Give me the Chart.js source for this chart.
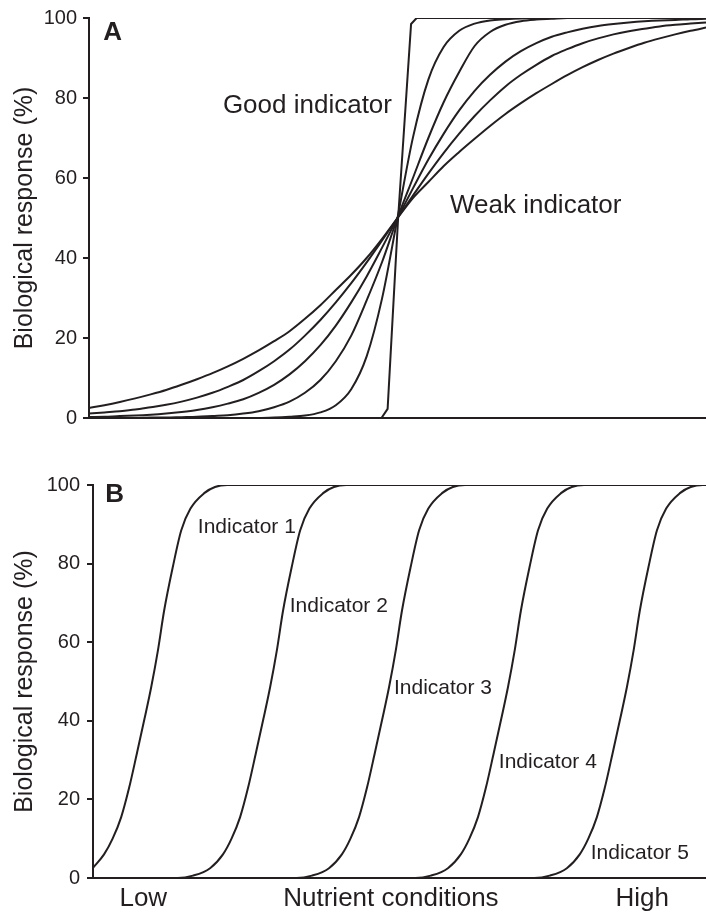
<!DOCTYPE html>
<html>
<head>
<meta charset="utf-8">
<script src="https://cdn.jsdelivr.net/npm/chart.js@4.4.1/dist/chart.umd.min.js"></script>
<style>
  html, body { margin: 0; padding: 0; background: #fff; }
  #wrap { position: relative; width: 706px; height: 912px; }
  canvas { position: absolute; left: 0; }
  #chartA { top: 0; }
  #chartB { top: 460px; }
</style>
</head>
<body>
<div id="wrap">
  <canvas id="chartA" width="706" height="445"></canvas>
  <canvas id="chartB" width="706" height="452"></canvas>
</div>
<script>
// ---- Panel A: response curves of increasing steepness, all crossing at 50 %
const xA = [0, 2.5, 5, 7.5, 10, 12.5, 15, 17.5, 20, 22.5, 25, 27.5, 30, 32.5, 35, 37.5, 40, 42.5, 45, 47.5,
            50, 52.5, 55, 57.5, 60, 62.5, 65, 67.5, 70, 72.5, 75, 77.5, 80, 82.5, 85, 87.5, 90, 92.5, 95, 97.5, 100];

const weakest = [2.5, 3.2, 4.0, 4.9, 5.9, 7.0, 8.3, 9.7, 11.2, 12.9, 14.8, 16.9, 19.2, 21.7, 24.8, 28.2, 32.0, 35.8, 40.0, 44.8,
                 50, 55, 59, 63, 66.5, 69.8, 73, 76, 78.7, 81.2, 83.5, 85.7, 87.7, 89.5, 91.1, 92.5, 93.8, 94.9, 95.9, 96.8, 97.6];
const curve5 = [1.1, 1.4, 1.7, 2.1, 2.7, 3.3, 4.1, 5.1, 6.3, 7.8, 9.5, 11.7, 14.2, 17.1, 20.6, 24.5, 28.9, 33.7, 38.9, 44.4,
                50, 55.6, 61.1, 66.3, 71.1, 75.5, 79.4, 82.9, 85.8, 88.3, 90.5, 92.2, 93.7, 94.9, 95.9, 96.7, 97.3, 97.9, 98.3, 98.6, 98.9];
const curve4 = [0.25, 0.3, 0.5, 0.6, 0.8, 1.1, 1.5, 2.0, 2.7, 3.6, 4.7, 6.3, 8.3, 10.9, 14.2, 18.2, 23.1, 28.9, 35.4, 42.6,
                50, 57.4, 64.6, 71.1, 76.9, 81.8, 85.8, 89.1, 91.7, 93.7, 95.3, 96.4, 97.3, 98.0, 98.5, 98.9, 99.2, 99.4, 99.5, 99.7, 99.8];
const curve3 = [0, 0, 0, 0, 0.1, 0.1, 0.2, 0.3, 0.5, 0.7, 1.1, 1.7, 2.7, 4.1, 6.3, 9.5, 14.2, 20.6, 29.4, 39,
                50, 60, 70, 79, 86.5, 93, 96.5, 98.3, 99.2, 99.6, 99.8, 100, 100, 100, 100, 100, 100, 100, 100, 100, 100];
const curve2 = [0, 0, 0, 0, 0, 0, 0, 0, 0, 0, 0, 0, 0.1, 0.3, 0.6, 1.4, 3.2, 7.2, 15.4, 29.9,
                50, 70.1, 84.6, 92.8, 96.8, 98.6, 99.4, 99.7, 99.9, 100, 100, 100, 100, 100, 100, 100, 100, 100, 100, 100, 100];
// steepest curve ("good indicator") has its own break points
const goodX = [0, 47.4, 48.4, 50.1, 52.2, 53.1, 100];
const goodY = [0, 0, 2.3, 50, 98.5, 100, 100];

// ---- Panel B: five equally steep indicators along the gradient
const indicatorY = [0, 0, 0.6, 2.5, 6, 10, 15.5, 23, 32, 40.5, 48.6, 58, 68, 79, 88.5, 94, 98, 99.5, 100, 100];
const ind2X = [0, 13.8, 16.3, 19.1, 21.2, 22.6, 24.0, 25.3, 26.6, 27.8, 28.9, 30.0, 31.0, 32.4, 33.8, 35.3, 37.6, 39.3, 41.3, 100];
const ind3X = [0, 33.2, 35.7, 38.5, 40.6, 42.0, 43.4, 44.7, 46.0, 47.2, 48.3, 49.4, 50.4, 51.8, 53.2, 54.7, 57.0, 58.7, 60.7, 100];
const ind4X = [0, 52.6, 55.1, 57.9, 60.0, 61.4, 62.8, 64.1, 65.4, 66.6, 67.7, 68.8, 69.8, 71.2, 72.6, 74.1, 76.4, 78.1, 80.1, 100];
const ind5X = [0, 72.0, 74.5, 77.3, 79.4, 80.8, 82.2, 83.5, 84.8, 86.0, 87.1, 88.2, 89.2, 90.6, 92.0, 93.5, 95.8, 97.5, 99.5, 100];
// indicator 1 is already rising at the low end of the gradient
const ind1X = [0, 1.8, 3.2, 4.6, 5.9, 7.2, 8.4, 9.5, 10.6, 11.6, 13.0, 14.4, 15.9, 18.2, 19.9, 21.9, 100];
const ind1Y = [2.6, 6, 10, 15.5, 23, 32, 40.5, 48.6, 58, 68, 79, 88.5, 94, 98, 99.5, 100, 100];

const xLabelPos = [8.2, 48.6, 89.6];
const xLabelText = ['Low', 'Nutrient conditions', 'High'];
const yTitle = 'Biological response (%)';

const ink = '#231f20';
const fontFam = '"Liberation Sans", Arial, Helvetica, sans-serif';

const pts = (xs, ys) => xs.map((x, i) => ({ x: x, y: ys[i] }));

function line(data, smooth) {
    return {
        data: data,
        borderColor: ink,
        borderWidth: 2,
        pointRadius: 0,
        fill: false,
        tension: smooth ? 0.4 : 0,
        cubicInterpolationMode: smooth ? 'monotone' : 'default'
    };
}

// draws free text at data coordinates
const textLabels = {
    id: 'textLabels',
    afterDatasetsDraw(chart, args, opts) {
        const ctx = chart.ctx;
        const xs = chart.scales.x, ys = chart.scales.y;
        ctx.save();
        ctx.fillStyle = ink;
        ctx.textAlign = 'left';
        ctx.textBaseline = 'alphabetic';
        (opts.items || []).forEach(it => {
            ctx.font = it.font;
            ctx.fillText(it.text, xs.getPixelForValue(it.x), ys.getPixelForValue(it.y));
        });
        ctx.restore();
    }
};

function makeOptions(cfg) {
    return {
        responsive: false,
        animation: false,
        events: [],
        layout: { padding: { top: cfg.padTop, left: 0, right: 0, bottom: 0 } },
        plugins: {
            legend: { display: false },
            tooltip: { enabled: false },
            textLabels: { items: cfg.labels }
        },
        scales: {
            x: {
                type: 'linear',
                min: 0,
                max: 100,
                grid: { display: false, drawTicks: false },
                border: { display: true, color: ink, width: 2 },
                ticks: cfg.xTicks,
                afterBuildTicks: cfg.xBuildTicks,
                afterFit: s => { s.height = cfg.xHeight; }
            },
            y: {
                min: 0,
                max: 100,
                grid: { display: true, drawOnChartArea: false, drawTicks: true, tickLength: 6, color: ink, lineWidth: 2 },
                border: { display: true, color: ink, width: 2 },
                ticks: {
                    stepSize: 20,
                    color: ink,
                    padding: cfg.tickPad,
                    font: { family: fontFam, size: 20 }
                },
                title: {
                    display: true,
                    text: yTitle,
                    color: ink,
                    padding: { top: 10, bottom: 0 },
                    font: { family: fontFam, size: 25 }
                },
                afterFit: s => { s.width = cfg.yWidth; }
            }
        }
    };
}

// Panel A
new Chart(document.getElementById('chartA').getContext('2d'), {
    type: 'line',
    data: {
        datasets: [
            line(pts(goodX, goodY), false),
            line(pts(xA, curve2), true),
            line(pts(xA, curve3), true),
            line(pts(xA, curve4), true),
            line(pts(xA, curve5), true),
            line(pts(xA, weakest), true)
        ]
    },
    options: makeOptions({
        padTop: 18,
        xHeight: 27,
        yWidth: 89,
        tickPad: 6,
        xTicks: { display: false },
        xBuildTicks: undefined,
        labels: [
            { text: 'A', x: 2.3, y: 94.5, font: 'bold 26px ' + fontFam },
            { text: 'Good indicator', x: 21.7, y: 76.25, font: '26px ' + fontFam },
            { text: 'Weak indicator', x: 58.5, y: 51.25, font: '26px ' + fontFam }
        ]
    }),
    plugins: [textLabels]
});

// Panel B
new Chart(document.getElementById('chartB').getContext('2d'), {
    type: 'line',
    data: {
        datasets: [
            line(pts(ind1X, ind1Y), true),
            line(pts(ind2X, indicatorY), true),
            line(pts(ind3X, indicatorY), true),
            line(pts(ind4X, indicatorY), true),
            line(pts(ind5X, indicatorY), true)
        ]
    },
    options: makeOptions({
        padTop: 25,
        xHeight: 34,
        yWidth: 93,
        tickPad: 7,
        xTicks: {
            display: true,
            autoSkip: false,
            maxRotation: 0,
            minRotation: 0,
            padding: 5,
            color: ink,
            font: { family: fontFam, size: 26 },
            callback: (v, i) => xLabelText[i]
        },
        xBuildTicks: s => { s.ticks = xLabelPos.map(v => ({ value: v })); },
        labels: [
            { text: 'B', x: 2.0, y: 95.8, font: 'bold 26px ' + fontFam },
            { text: 'Indicator 1', x: 17.1, y: 87.8, font: '21px ' + fontFam },
            { text: 'Indicator 2', x: 32.1, y: 67.7, font: '21px ' + fontFam },
            { text: 'Indicator 3', x: 49.1, y: 46.8, font: '21px ' + fontFam },
            { text: 'Indicator 4', x: 66.2, y: 28.0, font: '21px ' + fontFam },
            { text: 'Indicator 5', x: 81.2, y: 4.8, font: '21px ' + fontFam }
        ]
    }),
    plugins: [textLabels]
});
</script>
</body>
</html>
